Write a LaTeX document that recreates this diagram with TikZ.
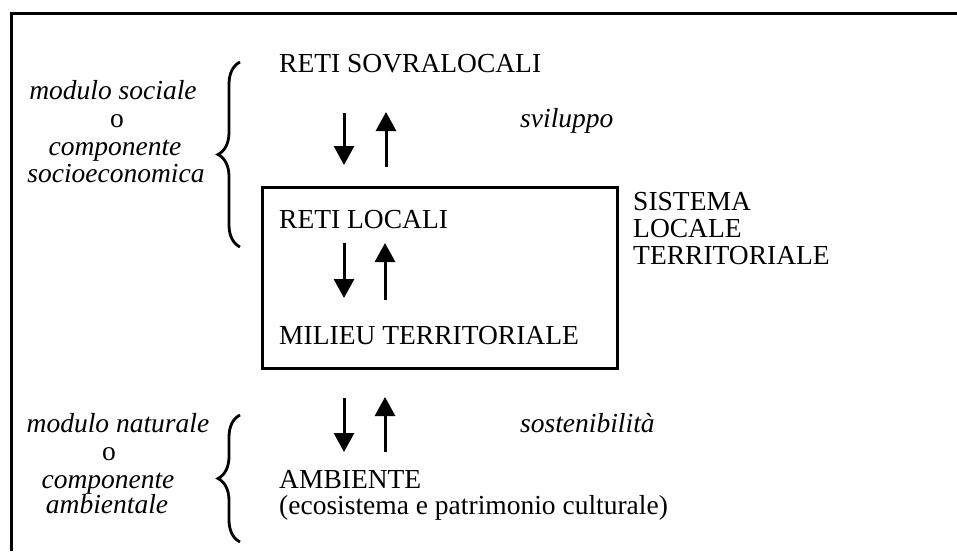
\documentclass[tikz,border=0pt]{standalone}
\usepackage{fontspec}
\setmainfont{Liberation Serif}
\usetikzlibrary{arrows.meta,decorations.pathreplacing}
\tikzset{
  txt/.style={inner sep=0pt,font=\fontsize{27.5}{27}\selectfont},
  lbl/.style={txt,anchor=base west},
  itl/.style={txt,anchor=base,font=\fontsize{27.5}{27}\selectfont\itshape},
  itw/.style={txt,anchor=base west,font=\fontsize{27.5}{27}\selectfont\itshape},
  flow/.style={line width=3pt,-{Triangle[width=20pt,length=19pt]}},
  frame/.style={line width=3pt},
  bracket/.style={line width=2.8pt,decorate,decoration={brace,amplitude=22pt}}
}
\begin{document}
\begin{tikzpicture}[x=1pt,y=-1pt]
\useasboundingbox (0,0) rectangle (957,551);
\fill[white] (0,0) rectangle (957,551);
% outer frame
\draw[frame] (11,551) -- (11,13.5) -- (957,13.5);
% central box
\node[draw,frame,inner sep=0pt,minimum width=355pt,minimum height=181pt,anchor=north west] (box) at (261,186) {};
% texts
\node[lbl] (sovra) at (279,72) {RETI SOVRALOCALI};
\node[lbl] (locali) at (279,228) {RETI LOCALI};
\node[lbl] (milieu) at (279,344) {MILIEU TERRITORIALE};
\node[lbl] (amb) at (279,488) {AMBIENTE};
\node[lbl] (eco) at (279,514) {(ecosistema e patrimonio culturale)};
\node[lbl] (sis1) at (633,210) {SISTEMA};
\node[lbl] (sis2) at (633,237) {LOCALE};
\node[lbl] (sis3) at (633,264) {TERRITORIALE};
\node[itw] (svil) at (520,127) {sviluppo};
\node[itw] (sost) at (520,432) {sostenibilità};
% italic labels
\node[itl] (ms1) at (113,99) {modulo sociale};
\node[txt,anchor=base] (ms2) at (117,127) {o};
\node[itl] (ms3) at (115,155) {componente};
\node[itl] (ms4) at (116,182) {socioeconomica};
\node[itl] (mn1) at (118,432) {modulo naturale};
\node[txt,anchor=base] (mn2) at (109,460) {o};
\node[itl] (mn3) at (108,488) {componente};
\node[itl] (mn4) at (107,513) {ambientale};
% arrow end points
\coordinate (a1s) at (344,113); \coordinate (a1e) at (344,165);
\coordinate (b1s) at (386,167); \coordinate (b1e) at (386,112);
\coordinate (a2s) at (344,243); \coordinate (a2e) at (344,298);
\coordinate (b2s) at (385,300); \coordinate (b2e) at (385,243);
\coordinate (a3s) at (344,398); \coordinate (a3e) at (344,452);
\coordinate (b3s) at (385,452); \coordinate (b3e) at (385,397);
\draw[flow] (a1s) -- (a1e);
\draw[flow] (b1s) -- (b1e);
\draw[flow] (a2s) -- (a2e);
\draw[flow] (b2s) -- (b2e);
\draw[flow] (a3s) -- (a3e);
\draw[flow] (b3s) -- (b3e);
% braces
\coordinate (br1b) at (240,247); \coordinate (br1t) at (240,62);
\coordinate (br2b) at (240,542); \coordinate (br2t) at (240,415);
\draw[bracket] (br1b) -- (br1t);
\draw[bracket] (br2b) -- (br2t);
\end{tikzpicture}
\end{document}
